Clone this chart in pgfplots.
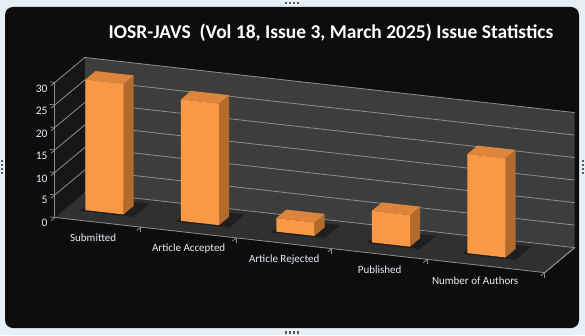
\documentclass[border=0pt]{standalone}
\usepackage{pgfplots}
\pgfplotsset{compat=1.18}
\usepackage{fontspec}
\setmainfont{Carlito}
\definecolor{frame}{HTML}{E6EFF5}
\definecolor{bg}{HTML}{0D0D0D}
\definecolor{floorc}{HTML}{303030}
\definecolor{backw}{HTML}{3D3D3D}
\definecolor{sidew}{HTML}{161616}
\definecolor{gridc}{HTML}{8E8E8E}
\definecolor{barfront}{HTML}{F99845}
\definecolor{barside}{HTML}{B4692D}
\definecolor{bartop}{HTML}{DC853B}
\definecolor{ticktext}{HTML}{E6EEF8}
\newcommand{\drawbar}[2]{%
  \pgfmathsetmacro\xa{#1-0.2}%
  \pgfmathsetmacro\xb{#1+0.2}%
  \pgfmathsetmacro\sa{#1-0.24}%
  \pgfmathsetmacro\sb{#1+0.32}%
  \edef\temp{%
    \noexpand\addplot3[fill=black,fill opacity=0.35,draw=none] coordinates {(\sa,0.33,0) (\sb,0.33,0) (\sb,0.86,0) (\sa,0.86,0)} --cycle;
    \noexpand\addplot3[fill=barside,draw=none] coordinates {(\xb,0.38,0) (\xb,0.72,0) (\xb,0.72,#2) (\xb,0.38,#2)} --cycle;
    \noexpand\addplot3[fill=bartop,draw=none] coordinates {(\xa,0.38,#2) (\xb,0.38,#2) (\xb,0.72,#2) (\xa,0.72,#2)} --cycle;
    \noexpand\addplot3[fill=barfront,draw=none] coordinates {(\xa,0.38,0) (\xb,0.38,0) (\xb,0.38,#2) (\xa,0.38,#2)} --cycle;
  }\temp}
\begin{document}
\begin{tikzpicture}
\fill[frame] (0,0) rectangle (585pt,335pt);
\fill[bg, rounded corners=8pt] (5pt,7pt) rectangle (579pt,328pt);
\foreach \d in {0,4,8,12}{
  \fill[gray!70!black] (285pt+\d pt,331pt) rectangle ++(2.2pt,2.2pt);
  \fill[gray!70!black] (285pt+\d pt,1.5pt) rectangle ++(2.2pt,2.2pt);
  \fill[gray!70!black] (1pt,161pt+\d pt) rectangle ++(2.2pt,2.2pt);
  \fill[gray!70!black] (581.5pt,161pt+\d pt) rectangle ++(2.2pt,2.2pt);
}
\node[text=white, font=\bfseries\fontsize{19.5}{22}\selectfont] at (331pt,302pt) {IOSR-JAVS\ \ (Vol 18, Issue 3, March 2025) Issue Statistics};
\begin{axis}[
  at={(93pt,113.25pt)}, anchor=origin,
  x={(95.5pt,-10.75pt)}, y={(30pt,25pt)}, z={(0pt,4.5pt)},
  xmin=-0.4, xmax=4.73, ymin=0, ymax=1, zmin=0, zmax=30,
  enlargelimits=false, clip=false,
  axis lines*=left, axis on top,
  axis line style={gridc, line width=0.8pt},
  xtick={0,1,2,3,4},
  xticklabels={Submitted, Article Accepted, Article Rejected, Published, Number of Authors},
  minor xtick={0.5,1.5,2.5,3.5,4.73},
  ytick=\empty,
  ztick={0,5,...,30},
  tick style={gridc, line width=0.8pt},
  major tick length=5pt, minor tick length=5pt,
  major x tick style={draw=none},
  tick align=outside,
  xticklabel style={font=\fontsize{11}{12}\selectfont, text=ticktext, anchor=north, yshift=-5pt, xshift=4pt},
  zticklabel style={font=\fontsize{11.5}{12}\selectfont, text=ticktext},
  /pgf/number format/assume math mode=true,
]
% walls and floor
\addplot3[fill=sidew, draw=none] coordinates {(-0.4,0,0) (-0.4,1,0) (-0.4,1,30) (-0.4,0,30)} --cycle;
\addplot3[fill=backw, draw=none] coordinates {(-0.4,1,0) (4.73,1,0) (4.73,1,30) (-0.4,1,30)} --cycle;
\addplot3[fill=floorc, draw=none] coordinates {(-0.4,0,0) (4.73,0,0) (4.73,1,0) (-0.4,1,0)} --cycle;
\pgfplotsinvokeforeach{5,10,...,30}{
  \addplot3[gridc, line width=0.8pt] coordinates {(-0.4,0,#1) (-0.4,1,#1) (4.73,1,#1)};
}
\addplot3[gridc, line width=0.8pt] coordinates {(-0.4,1,0) (4.73,1,0) (4.73,0,0)};
% bars (values)
\drawbar{0}{29}
\drawbar{1}{27}
\drawbar{2}{3}
\drawbar{3}{7}
\drawbar{4}{22}
\end{axis}
\end{tikzpicture}
\end{document}
